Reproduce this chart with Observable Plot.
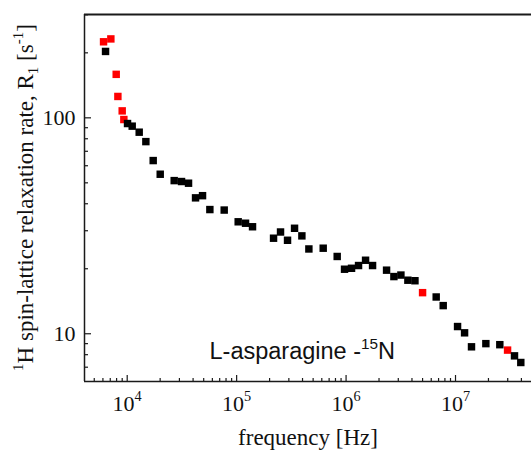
<!DOCTYPE html>
<html><head><meta charset="utf-8">
<script src="https://cdn.jsdelivr.net/npm/d3@7"></script>
<script src="https://cdn.jsdelivr.net/npm/@observablehq/plot@0.6"></script>
<style>body{margin:0;background:#fff}</style>
</head><body><div id="chart"></div>
<script>
// ---- data ----
const blackFreq = [6340,10070,11110,12870,14810,17280,20030,26880,31370,36350,42120,48800,56930,76980,103300,120600,139700,217400,251800,291800,338200,394600,457200,618000,829500,968000,1122000,1300000,1507000,1746000,2344000,2735000,3170000,3670000,4260000,6660000,7720000,10440000,12100000,14000000,18940000,25400000,34600000,39500000];
const blackRate = [203,94.1,91.5,85.8,77.6,63.4,54.8,51.2,50.7,49.8,42.6,43.6,37.6,37.4,33.0,32.5,31.3,27.7,29.6,27.1,30.8,28.4,24.7,24.9,22.8,19.9,20.1,20.7,21.9,20.7,19.7,18.4,18.7,17.7,17.6,14.8,13.5,10.8,10.1,8.7,9.0,8.9,7.9,7.36];
const redFreq = [6080,7090,7935,8220,9000,9320,5000000,29900000];
const redRate = [225,232,159,125.6,107.7,98.2,15.5,8.4];

const xTickValues = [1e4,1e5,1e6,1e7];
const xTickLabels = ["10^{4}","10^{5}","10^{6}","10^{7}"];
const yTickValues = [10,100];
const yTickLabels = ["10","100"];
const xLabel = "frequency [Hz]";
const yLabel = "^{1}H spin-lattice relaxation rate, R_{1} [s^{-1}]";
const annotation = "L-asparagine -^{15}N";
const annotationPos = {x: 56500, y: 7.65};

const xDomain = [4072, 4.947e7];
const yDomain = [6.01, 301];

// minor ticks
const xMinor = [];
for (let e = 3; e <= 7; e++) for (let k = 2; k <= 9; k++) { const v = k * 10 ** e; if (v >= xDomain[0] && v <= xDomain[1]) xMinor.push(v); }
const yMinor = [];
for (let e = 0; e <= 2; e++) for (let k = 2; k <= 9; k++) { const v = k * 10 ** e; if (v >= yDomain[0] && v <= yDomain[1]) yMinor.push(v); }

const black = blackFreq.map((f, i) => ({f, r: blackRate[i]}));
const red = redFreq.map((f, i) => ({f, r: redRate[i]}));

const serif = "'Liberation Serif','Times New Roman',serif";
const axisColor = "#1a1a1a";
const plot = Plot.plot({
  width: 531, height: 451,
  marginLeft: 84, marginRight: 0, marginTop: 14, marginBottom: 70,
  x: {type: "log", domain: xDomain},
  y: {type: "log", domain: yDomain},
  style: {fontFamily: serif, background: "white", color: axisColor},
  marks: [
    Plot.axisX(xMinor, {anchor: "bottom", tickSize: -3, tickFormat: () => "", strokeWidth: 1.2}),
    Plot.axisX(xTickValues, {anchor: "bottom", tickSize: -6, tickFormat: () => "", strokeWidth: 1.2}),
    Plot.axisY(yMinor, {anchor: "left", tickSize: -4, tickFormat: () => "", strokeWidth: 1.2}),
    Plot.axisY(yTickValues, {anchor: "left", tickSize: -7, tickFormat: () => "", strokeWidth: 1.2}),
    Plot.text(xTickValues, {x: d => d, frameAnchor: "bottom", dy: 22, lineAnchor: "middle", textAnchor: "middle",
      text: d => xTickLabels[xTickValues.indexOf(d)], fontSize: 22, fontFamily: serif, fill: "#111"}),
    Plot.text(yTickValues, {x: () => xDomain[0], y: d => d, dx: -9, textAnchor: "end", lineAnchor: "middle",
      text: d => yTickLabels[yTickValues.indexOf(d)], fontSize: 22, fontFamily: serif, fill: "#111"}),
    Plot.ruleX([xDomain[0]], {stroke: axisColor, strokeWidth: 1.5}),
    Plot.ruleY([yDomain[0]], {stroke: axisColor, strokeWidth: 1.5}),
    Plot.ruleY([yDomain[1]], {stroke: axisColor, strokeWidth: 2}),
    Plot.dot(red, {x: "f", y: "r", symbol: "square", r: 4.2, fill: "#ff0000", stroke: null}),
    Plot.dot(black, {x: "f", y: "r", symbol: "square", r: 4.2, fill: "#000", stroke: null}),
    Plot.text([annotationPos], {x: "x", y: "y", text: () => annotation, textAnchor: "start", lineAnchor: "bottom", fontSize: 23.5, fontFamily: "'Liberation Sans',Arial,sans-serif", fill: "#111"})
  ]
});

// rich text: ^{..} superscript, _{..} subscript
function richify(el, fs) {
  const s = el.textContent;
  if (!/[\^_]\{/.test(s)) return;
  const parts = [];
  const re = /([\^_])\{([^}]*)\}/g;
  let last = 0, m;
  while ((m = re.exec(s))) {
    if (m.index > last) parts.push({t: s.slice(last, m.index), k: ""});
    parts.push({t: m[2], k: m[1]});
    last = re.lastIndex;
  }
  if (last < s.length) parts.push({t: s.slice(last), k: ""});
  while (el.firstChild) el.removeChild(el.firstChild);
  let shift = 0;
  for (const p of parts) {
    const ts = document.createElementNS("http://www.w3.org/2000/svg", "tspan");
    const target = p.k === "^" ? -0.42 * fs : p.k === "_" ? 0.22 * fs : 0;
    ts.setAttribute("dy", (target - shift).toFixed(2));
    shift = target;
    if (p.k) ts.setAttribute("font-size", (0.65 * fs).toFixed(1));
    ts.textContent = p.t;
    el.appendChild(ts);
  }
}
const svg = d3.select(plot);
svg.selectAll("text").each(function () {
  let fs = parseFloat(this.getAttribute("font-size"));
  if (!fs && this.parentNode) fs = parseFloat(this.parentNode.getAttribute("font-size"));
  richify(this, fs || 22);
});

// axis titles
svg.append("text").attr("x", 308).attr("y", 445).attr("text-anchor", "middle")
  .attr("font-family", serif).attr("font-size", 23).attr("fill", "#111").text(xLabel);
const ty = svg.append("text").attr("transform", "translate(33,197.5) rotate(-90)").attr("text-anchor", "middle")
  .attr("font-family", serif).attr("font-size", 23).attr("fill", "#111").text(yLabel);
richify(ty.node(), 23);

document.getElementById("chart").appendChild(plot);
</script>
</body></html>
